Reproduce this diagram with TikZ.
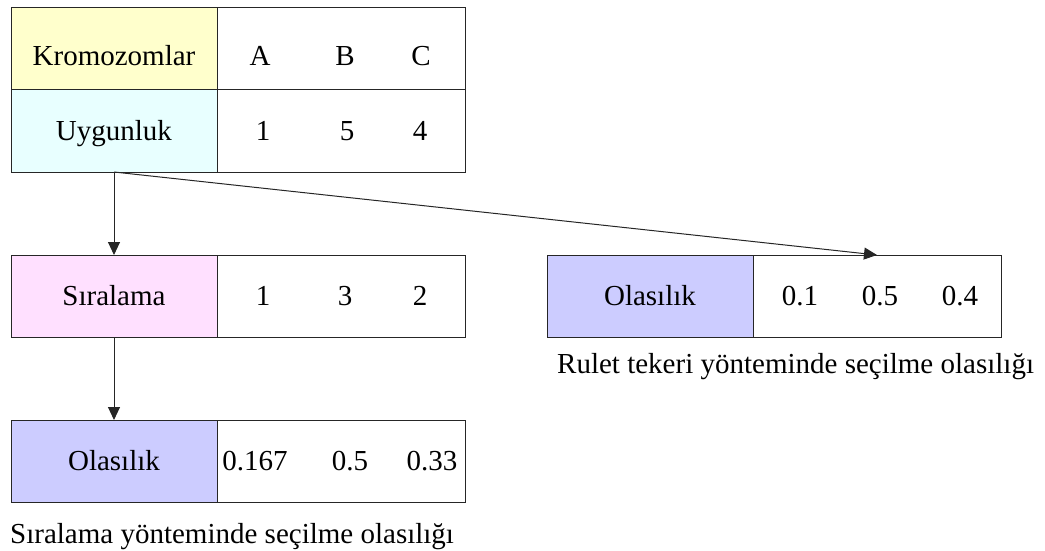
\documentclass[tikz,border=0pt]{standalone}
\usepackage{fontspec}
\setmainfont{Liberation Serif}
\usetikzlibrary{positioning,arrows.meta}

\definecolor{sari}{RGB}{255,255,204}
\definecolor{camgobegi}{RGB}{232,255,255}
\definecolor{pembe}{RGB}{255,224,255}
\definecolor{lila}{RGB}{204,204,255}

\begin{document}
\begin{tikzpicture}[
  x=1pt, y=1pt,
  font=\fontsize{29}{34}\selectfont,
  hucre/.style={draw=black!85, line width=1pt, inner sep=0pt, outer sep=0pt,
    minimum height=82pt, text height=25pt, text depth=6pt},
  etiket/.style={hucre, minimum width=206pt},
  deger/.style={hucre, minimum width=248pt},
  sayi/.style={inner sep=0pt, text height=25pt, text depth=6pt},
  ok/.style={draw=black!85, line width=1pt, -{Triangle[length=13pt,width=12pt]}},
  node distance=83pt
]
\useasboundingbox (0,0) rectangle (1045,-551);

% ust tablo
\node[etiket, fill=sari, anchor=north west, text height=33pt, text depth=0pt] (krom) at (11,-8) {Kromozomlar};
\node[deger, right=0pt of krom] (kdeg) {};
\node[etiket, fill=camgobegi, below=0pt of krom] (uyg) {Uygunluk};
\node[deger, right=0pt of uyg] (udeg) {};
\foreach \d/\x [count=\i] in {A/43,B/128,C/204}
  \node[sayi] (k\i) at ([xshift=\x pt, yshift=-7pt]kdeg.west) {\d};
\foreach \d/\x [count=\i] in {1/46,5/130,4/203}
  \node[sayi] (u\i) at ([xshift=\x pt]udeg.west) {\d};

% siralama yontemi
\node[etiket, fill=pembe, below=of uyg] (sira) {Sıralama};
\node[deger, right=0pt of sira] (sdeg) {};
\foreach \d/\x [count=\i] in {1/46,3/128,2/203}
  \node[sayi] (s\i) at ([xshift=\x pt]sdeg.west) {\d};

\node[etiket, fill=lila, below=of sira] (solas) {Olasılık};
\node[deger, right=0pt of solas] (sodeg) {};
\foreach \d/\x [count=\i] in {0.167/38,0.5/133,0.33/215}
  \node[sayi] (so\i) at ([xshift=\x pt]sodeg.west) {\d};
\node[anchor=north west, inner sep=0pt] (saciklama) at ([xshift=-1pt, yshift=-21pt]solas.south west)
  {Sıralama yönteminde seçilme olasılığı};

% rulet tekeri
\node[etiket, fill=lila, right=82pt of sdeg] (rolas) {Olasılık};
\node[deger, right=0pt of rolas] (rdeg) {};
\foreach \d/\x [count=\i] in {0.1/47,0.5/127,0.4/207}
  \node[sayi] (r\i) at ([xshift=\x pt]rdeg.west) {\d};
\node[anchor=north west, inner sep=0pt] (raciklama) at ([xshift=10pt, yshift=-16pt]rolas.south west)
  {Rulet tekeri yönteminde seçilme olasılığı};

% oklar
\draw[ok] (uyg.south) -- (sira.north);
\draw[ok] (uyg.south) -- (rdeg.north);
\draw[ok] (sira.south) -- (solas.north);
\end{tikzpicture}
\end{document}
